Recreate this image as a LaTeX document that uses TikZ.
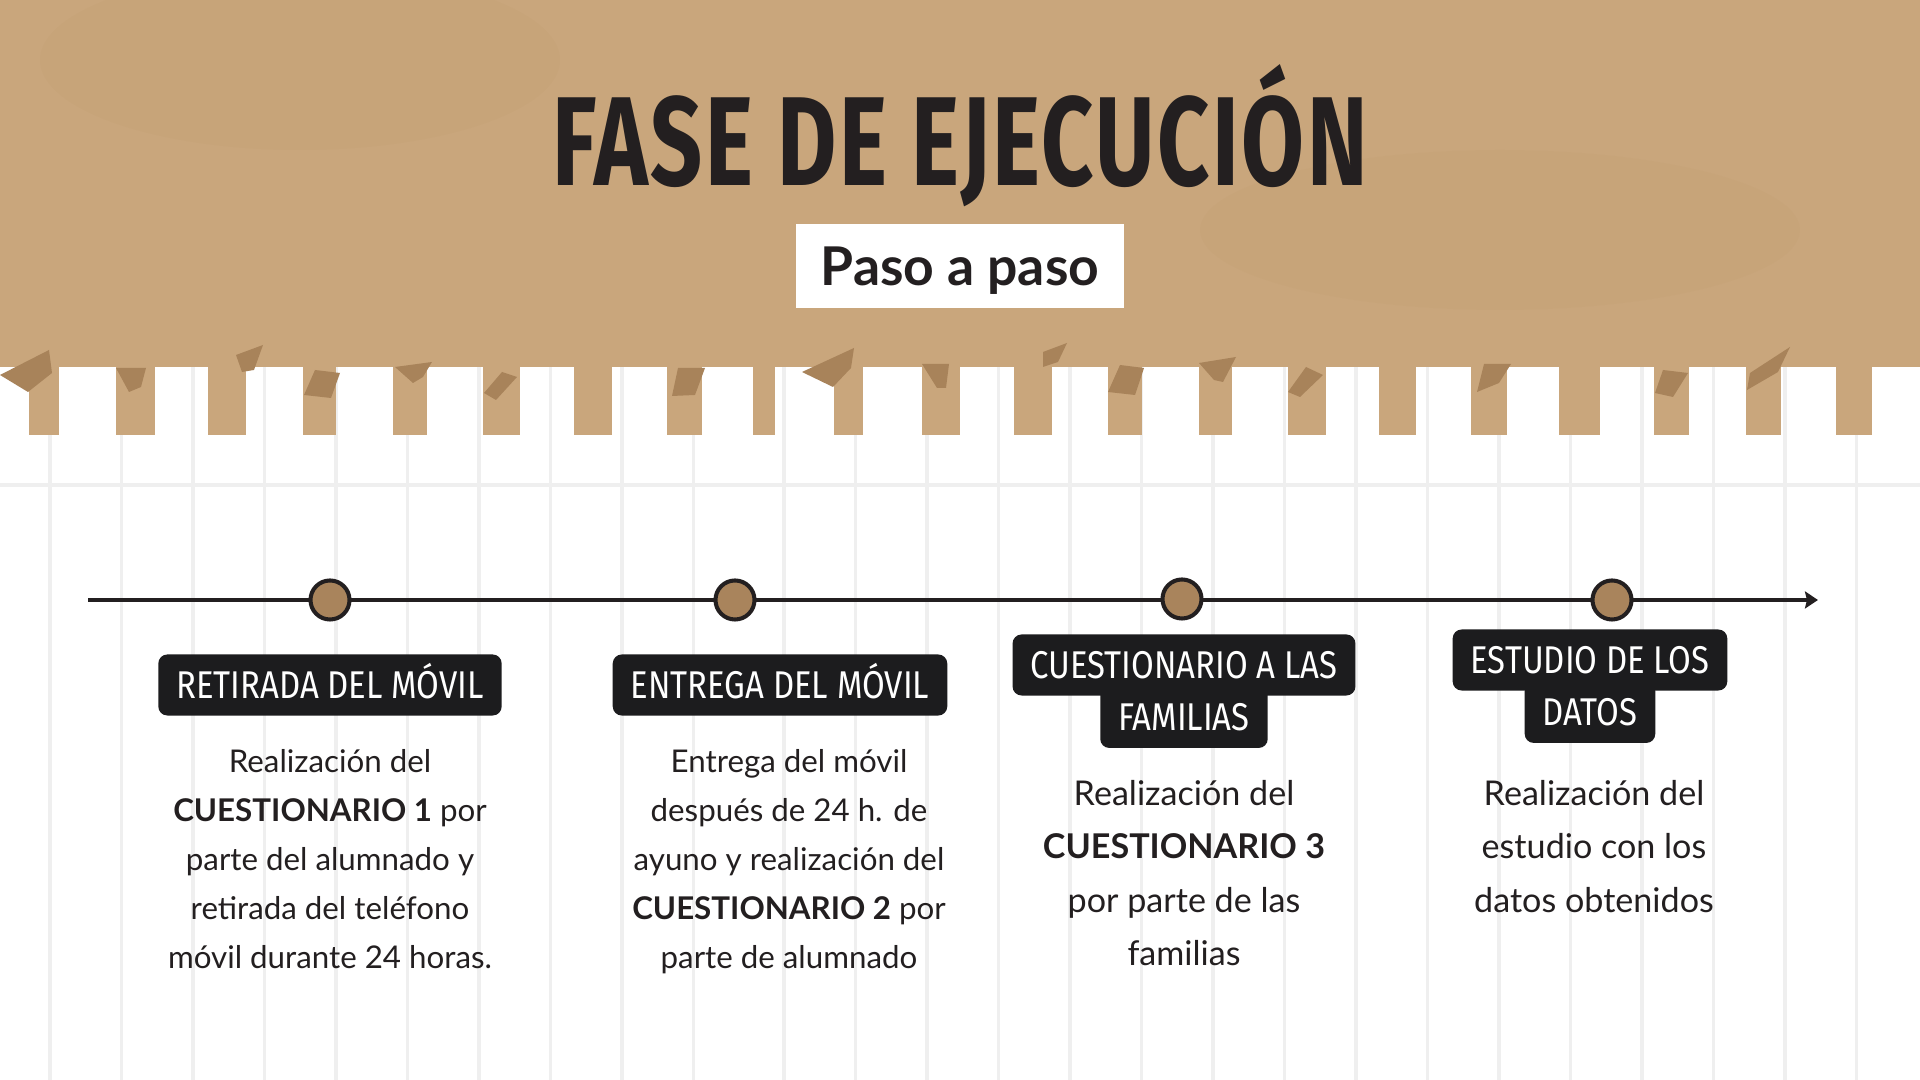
\documentclass[tikz,border=0pt]{standalone}
\usepackage{fontspec}
\setmainfont{Lato}
\newfontfamily\titlefont[FakeStretch=0.72,LetterSpace=2]{Fira Sans}
\newfontfamily\tagfont[FakeStretch=0.85]{Fira Sans}
\usetikzlibrary{positioning,arrows.meta}

\definecolor{kraft}{HTML}{C9A67C}
\definecolor{kraftdark}{HTML}{B8935F}
\definecolor{foldbrown}{HTML}{A8835A}
\definecolor{dotbrown}{HTML}{A9845C}
\definecolor{ink}{HTML}{231F20}
\definecolor{tagblack}{HTML}{1C1C1E}
\definecolor{rulegray}{HTML}{EFEFEF}

\begin{document}
\begin{tikzpicture}[x=0.01cm,y=-0.01cm,
  ruleline/.style={draw=rulegray,line width=1pt},
  foldpiece/.style={fill=foldbrown},
  dotnode/.style={circle,draw=ink,line width=1.15pt,fill=dotbrown,minimum size=0.39cm,inner sep=0pt},
  tagbox/.style={fill=tagblack,rounded corners=0.09cm,text=white,
    font=\tagfont\fontsize{11}{13}\selectfont,text height=7.6pt,text depth=0pt,
    minimum height=0.61cm,inner xsep=0.18cm},
  bodytext/.style={align=center,text=ink,anchor=north,inner sep=0pt},
]
\useasboundingbox (0,0) rectangle (1920,1080);
\fill[white] (0,0) rectangle (1920,1080);

% notebook paper
\foreach \k in {0,...,9}
  \draw[ruleline] (50+71.5*\k,360) -- (50+71.5*\k,1080);
\foreach \k in {0,...,15}
  \draw[ruleline] (784+71.5*\k,360) -- (784+71.5*\k,1080);
\draw[ruleline] (0,485) -- (1920,485);

% kraft band
\fill[kraft] (0,0) rectangle (1920,367);
\fill[kraftdark,opacity=0.1] (300,60) ellipse [x radius=260, y radius=90];
\fill[kraftdark,opacity=0.08] (1500,230) ellipse [x radius=300, y radius=80];

% torn strips
\foreach \x/\w in {29/30,116/39,208/38,303/33,393/34,483/37,574/38,667/35,753/22,
  834/29,922/38,1014/38,1108/34,1199/33,1288/38,1379/37,1471/36,1559/41,1654/35,
  1746/35,1836/36}
  \fill[kraft] (\x,360) rectangle ++(\w,75);
\foreach \a/\b/\c/\d/\e/\f/\g/\h in {49/350/0/375/28/392/52/373,
  116/368/146/368/141/387/129/392, 236/355/263/345/254/370/242/372,
  315/370/340/373/331/398/304/395, 395/367/432/362/423/377/413/383,
  484/393/502/372/517/377/496/400, 678/368/705/368/695/395/672/396,
  802/372/854/348/851/368/833/387, 922/364/949/364/946/388/937/388,
  1043/352/1067/343/1058/362/1043/367, 1120/365/1144/368/1135/395/1108/392,
  1199/363/1236/357/1223/382/1214/380, 1306/367/1323/375/1300/397/1288/392,
  1484/364/1511/364/1499/383/1477/392, 1663/370/1688/373/1673/397/1655/393,
  1750/373/1790/347/1778/372/1747/390}
  \fill[foldpiece] (\a,\b) -- (\c,\d) -- (\e,\f) -- (\g,\h) -- cycle;

% heading
\node[font=\titlefont\bfseries\fontsize{36}{40}\selectfont,text=ink,inner sep=0pt,
  text height=24.8pt,text depth=0pt] (title) at (960,142) {FASE DE EJECUCIÓN};
\node[fill=white,minimum width=3.27cm,minimum height=0.84cm,text=ink,
  font=\bfseries\fontsize{15.2}{17}\selectfont,text height=11pt,text depth=0pt] (paso) at (960,266) {Paso a paso};

% timeline
\coordinate (tstart) at (88,600);
\coordinate (tend) at (1818,600);
\draw[ink,line width=0.9pt,-{Stealth[length=0.13cm,width=0.17cm,inset=0.02cm]}] (tstart) -- (tend);

\node[dotnode] (c1) at (330,600) {};
\node[dotnode] (c2) at (735,600) {};
\node[dotnode] (c3) at (1182,599) {};
\node[dotnode] (c4) at (1612,600) {};

% steps
\node[tagbox] (l1) at (330,685) {RETIRADA DEL MÓVIL};
\node[tagbox] (l2) at (780,685) {ENTREGA DEL MÓVIL};
\node[tagbox] (l3a) at (1184,665) {CUESTIONARIO A LAS};
\node[tagbox,below=-0.1cm of l3a] (l3b) {FAMILIAS};
\node[tagbox] (l4a) at (1590,660) {ESTUDIO DE LOS};
\node[tagbox,below=-0.1cm of l4a] (l4b) {DATOS};

\node[bodytext,font=\fontsize{8.9}{13.9}\selectfont] (t1) at (330,749)
  {Realización del\\ \textbf{CUESTIONARIO 1} por\\ parte del alumnado y\\ retirada del teléfono\\ móvil durante 24 horas.};
\node[bodytext,font=\fontsize{8.9}{13.9}\selectfont] (t2) at (789,749)
  {Entrega del móvil\\ después de 24 h. de\\ ayuno y realización del\\ \textbf{CUESTIONARIO 2} por\\ parte de alumnado};
\node[bodytext,font=\fontsize{9.7}{15.1}\selectfont] (t3) at (1184,780)
  {Realización del\\ \textbf{CUESTIONARIO 3}\\ por parte de las\\ familias};
\node[bodytext,font=\fontsize{9.7}{15.1}\selectfont] (t4) at (1594,780)
  {Realización del\\ estudio con los\\ datos obtenidos};
\end{tikzpicture}
\end{document}
